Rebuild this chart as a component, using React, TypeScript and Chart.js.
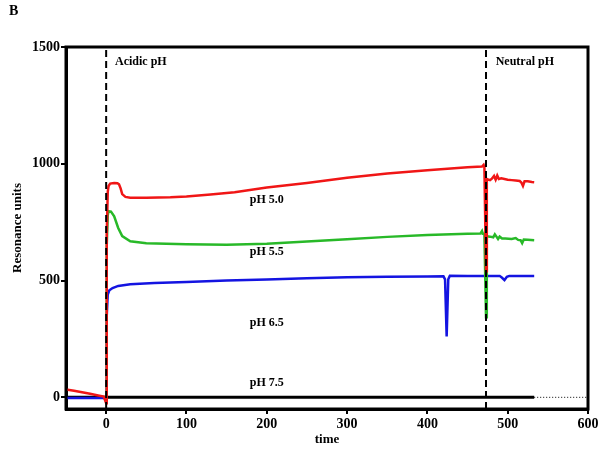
import React, { useEffect, useRef } from "react";
import { Chart, registerables } from "chart.js";

Chart.register(...registerables);

// ---- data ----
const xTicks = [0, 100, 200, 300, 400, 500, 600];
const yTicks = [0, 500, 1000, 1500];

const redT = [-50, -40, -30, -20, -10, -3, 0, 0.5, 1, 2, 3, 5, 10, 14, 16, 18, 20, 24, 30, 50, 80, 100, 130, 160, 200, 250, 300, 350, 400, 450, 468, 470, 471, 473, 474, 476, 478, 480, 483, 485, 487, 489, 492, 496, 500, 505, 510, 515, 517, 519, 521, 525, 530, 533];
const redV = [34, 28, 22, 15, 8, 3, -25, 300, 700, 880, 905, 915, 918, 917, 912, 895, 870, 858, 855, 855, 857, 860, 868, 878, 898, 918, 940, 958, 972, 985, 988, 995, 985, 540, 935, 932, 930, 935, 948, 932, 950, 935, 938, 935, 932, 930, 928, 926, 920, 905, 925, 925, 922, 921];

const greenT = [0, 0.5, 1, 2, 3, 6, 10, 15, 20, 30, 50, 100, 150, 200, 250, 300, 350, 400, 450, 466, 468, 469, 471, 473, 474, 478, 482, 484, 486, 488, 490, 493, 497, 505, 510, 513, 516, 518, 520, 525, 533];
const greenV = [0, 300, 650, 780, 797, 795, 775, 725, 690, 668, 660, 655, 653, 658, 667, 677, 687, 695, 700, 701, 712, 700, 700, 343, 690, 688, 685, 698, 688, 678, 688, 680, 680, 678, 682, 674, 673, 660, 676, 675, 673];

const blueT = [-50, -20, -3, 0, 0.5, 1, 2, 4, 8, 15, 30, 60, 100, 150, 200, 250, 300, 350, 400, 420, 422, 424, 426, 428, 450, 470, 473, 490, 493, 496, 499, 502, 533];
const blueV = [-3, -3, -3, -10, 150, 350, 440, 458, 468, 477, 484, 489, 494, 500, 505, 510, 514, 516, 517, 518, 505, 261, 505, 521, 520, 520, 520, 520, 512, 502, 516, 520, 520];

const blackT = [-50, 533];
const blackV = [0, 0];
const dottedT = [533, 600];
const dottedV = [0, 0];

const phaseLineX = [0, 473];
const yMin = -50;
const yMax = 1500;
const xMin = -50;
const xMax = 600;

const labelTexts = ["pH 5.0", "pH 5.5", "pH 6.5", "pH 7.5"];
const labelX = [200, 200, 200, 200];
const labelY = [845, 621, 317, 60];
const phaseTexts = ["Acidic pH", "Neutral pH"];
const phaseTextX = [11, 485];
const phaseTextY = [1435, 1435];

const pts = (t: number[], v: number[]) => t.map((x, i) => ({ x, y: v[i] }));

const FONT = "'Liberation Serif', 'Times New Roman', serif";

const annotPlugin = {
  id: "annot",
  afterDraw(chart: any) {
    const { ctx, chartArea, scales } = chart;
    const xs = scales.x;
    const ys = scales.y;
    ctx.save();
    ctx.strokeStyle = "#000";
    ctx.lineWidth = 3;
    ctx.strokeRect(chartArea.left, chartArea.top, chartArea.right - chartArea.left, chartArea.bottom - chartArea.top);
    ctx.fillStyle = "#000";
    ctx.font = `bold 12px ${FONT}`;
    ctx.textBaseline = "middle";
    ctx.textAlign = "center";
    labelTexts.forEach((t, i) => {
      ctx.fillText(t, xs.getPixelForValue(labelX[i]), ys.getPixelForValue(labelY[i]));
    });
    ctx.textAlign = "left";
    phaseTexts.forEach((t, i) => {
      ctx.fillText(t, xs.getPixelForValue(phaseTextX[i]), ys.getPixelForValue(phaseTextY[i]));
    });
    ctx.font = `bold 14px ${FONT}`;
    ctx.textBaseline = "top";
    ctx.fillText("B", 9, 4);
    ctx.restore();
  },
};

export default function App() {
  const ref = useRef<HTMLCanvasElement>(null);
  useEffect(() => {
    if (!ref.current) return;
    const line = (data: any, color: string, width: number, dash: number[] = []) => ({
      data,
      borderColor: color,
      backgroundColor: color,
      borderWidth: width,
      borderDash: dash,
      pointRadius: 0,
      fill: false,
      tension: 0,
    });
    const chart = new Chart(ref.current, {
      type: "line",
      data: {
        datasets: [
          line(pts([phaseLineX[0], phaseLineX[0]], [yMin, yMax]), "#000", 2, [7, 4]),
          line(pts([phaseLineX[1], phaseLineX[1]], [yMin, yMax]), "#000", 2, [7, 4]),
          line(pts(redT, redV), "rgb(240,22,22)", 2.5),
          line(pts(greenT, greenV), "rgb(40,185,40)", 2.5),
          line(pts(blueT, blueV), "rgb(20,20,225)", 2.5),
          line(pts(blackT, blackV), "#000", 3),
          line(pts(dottedT, dottedV), "#000", 1, [1, 2]),
        ] as any,
      },
      plugins: [annotPlugin],
      options: {
        animation: false,
        responsive: false,
        maintainAspectRatio: false,
        devicePixelRatio: 1,
        layout: { padding: { left: 0, top: 47, right: 16, bottom: 0 } },
        plugins: { legend: { display: false }, tooltip: { enabled: false } },
        scales: {
          x: {
            type: "linear",
            min: xMin,
            max: xMax,
            afterBuildTicks: (s: any) => {
              s.ticks = xTicks.map((value) => ({ value }));
            },
            afterFit: (s: any) => {
              s.height = 40;
            },
            grid: { drawOnChartArea: false, drawTicks: true, tickLength: 5, color: "#000", lineWidth: 2 },
            border: { display: true, color: "#000", width: 3 },
            ticks: { color: "#000", font: { family: FONT, size: 14, weight: "bold" }, padding: 2, maxRotation: 0, callback: (v: any) => String(v) },
            title: { display: true, text: "time", color: "#000", font: { family: FONT, size: 13, weight: "bold" }, padding: { top: 0, bottom: 2 } },
          },
          y: {
            type: "linear",
            min: yMin,
            max: yMax,
            afterBuildTicks: (s: any) => {
              s.ticks = yTicks.map((value) => ({ value }));
            },
            afterFit: (s: any) => {
              s.width = 66;
            },
            grid: { drawOnChartArea: false, drawTicks: true, tickLength: 5, color: "#000", lineWidth: 2 },
            border: { display: true, color: "#000", width: 3 },
            ticks: { color: "#000", font: { family: FONT, size: 14, weight: "bold" }, padding: 1, callback: (v: any) => String(v) },
            title: { display: true, text: "Resonance units", color: "#000", font: { family: FONT, size: 13, weight: "bold" }, padding: { top: 10, bottom: 0 } },
          },
        },
      } as any,
    });
    return () => chart.destroy();
  }, []);
  return (
    <div style={{ position: "absolute", left: 0, top: 0, width: 604, height: 449, background: "#fff" }}>
      <canvas ref={ref} width={604} height={449} style={{ width: 604, height: 449 }} />
    </div>
  );
}
